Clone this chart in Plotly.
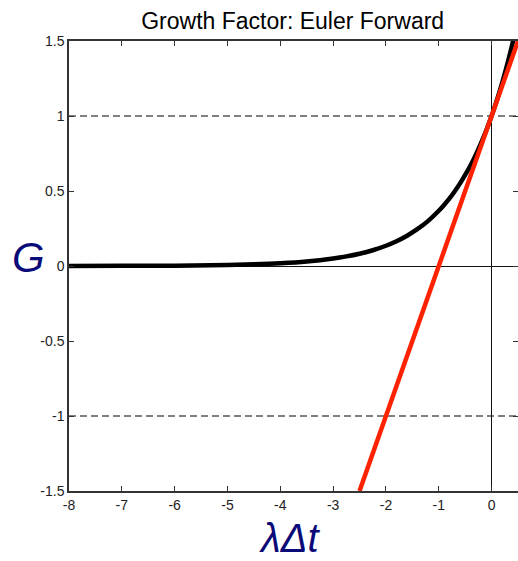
import plotly.graph_objects as go

# Data
x_exact = [-8, -7, -6, -5, -4.5, -4, -3.5, -3, -2.75, -2.5, -2.25, -2, -1.8, -1.6, -1.4,
           -1.2, -1, -0.9, -0.8, -0.7, -0.6, -0.5, -0.4, -0.3, -0.2, -0.1, 0,
           0.1, 0.2, 0.3, 0.4, 0.5]
g_exact = [0.0003, 0.0009, 0.0025, 0.0067, 0.011, 0.018, 0.030, 0.050, 0.064, 0.082,
           0.105, 0.135, 0.165, 0.202, 0.247, 0.301, 0.368, 0.407, 0.449, 0.497,
           0.549, 0.607, 0.670, 0.741, 0.819, 0.905, 1.0,
           1.105, 1.221, 1.35, 1.49, 1.65]
x_euler = [-2.5, 0.5]
g_euler = [-1.5, 1.5]
dashed_levels = [1, -1]
x_ticks = [-8, -7, -6, -5, -4, -3, -2, -1, 0]
y_ticks = [-1.5, -1, -0.5, 0, 0.5, 1, 1.5]
y_tick_labels = ["-1.5", "-1", "-0.5", "0", "0.5", "1", "1.5"]

fig = go.Figure()
fig.add_trace(go.Scatter(x=x_exact, y=g_exact, mode="lines", line_shape="spline",
                         line=dict(color="black", width=4.5), showlegend=False))
fig.add_trace(go.Scatter(x=x_euler, y=g_euler, mode="lines",
                         line=dict(color="#ff2200", width=4.5), showlegend=False))

for lv in dashed_levels:
    fig.add_shape(type="line", xref="paper", x0=0, x1=1, yref="y", y0=lv, y1=lv,
                  line=dict(color="#000000", width=1, dash="7px,4px"), layer="below")

tickfont = dict(family="Liberation Sans, Arial, sans-serif", size=14, color="#222222")
axis_style = dict(ticks="inside", ticklen=5, tickcolor="#333333", tickwidth=1.2,
                  showline=True, linecolor="#333333", linewidth=1.5, mirror="ticks",
                  showgrid=False, zeroline=True, zerolinecolor="#111111",
                  zerolinewidth=1.2, tickfont=tickfont)
fig.update_xaxes(range=[-8, 0.5], tickvals=x_ticks, ticktext=[str(t) for t in x_ticks],
                 **axis_style)
fig.update_yaxes(range=[-1.5, 1.5], tickvals=y_ticks, ticktext=y_tick_labels,
                 **axis_style)

fig.update_layout(
    width=518, height=561,
    margin=dict(l=69, r=0, t=41, b=70, autoexpand=False),
    plot_bgcolor="white", paper_bgcolor="white",
    title=dict(text="Growth Factor: Euler Forward", x=0.565, xanchor="center",
               y=0.962, yanchor="middle",
               font=dict(family="Liberation Sans, Arial, sans-serif", size=23, color="black")),
    annotations=[
        dict(text="<i>G</i>", xref="paper", yref="paper", x=-0.091, y=0.52,
             showarrow=False, xanchor="center", yanchor="middle",
             font=dict(family="Liberation Sans, Arial, sans-serif", size=42, color="#0a0a78")),
        dict(text="<i>λΔt</i>", xref="paper", yref="paper", x=0.492, y=-0.104,
             showarrow=False, xanchor="center", yanchor="middle",
             font=dict(family="Liberation Sans, Arial, sans-serif", size=40, color="#0a0a78")),
    ],
)

fig.write_html("out.html", config={"displayModeBar": False},
               post_script="document.body.style.margin='0';document.body.style.overflow='hidden';")
